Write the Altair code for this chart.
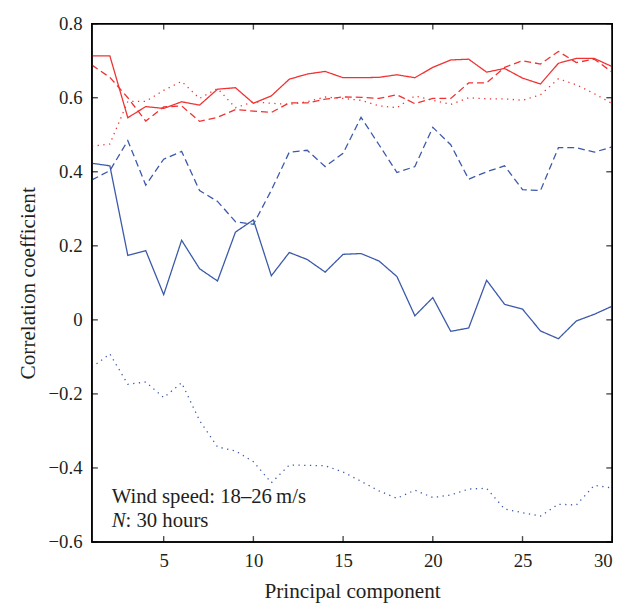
import altair as alt
import pandas as pd

pc = list(range(1, 31))

red_solid = [0.713, 0.713, 0.546, 0.576, 0.571, 0.589, 0.580, 0.623, 0.627, 0.585,
             0.605, 0.650, 0.664, 0.671, 0.654, 0.654, 0.655, 0.662, 0.654, 0.682,
             0.702, 0.704, 0.669, 0.679, 0.653, 0.637, 0.693, 0.706, 0.706, 0.684]
red_dashed = [0.688, 0.655, 0.600, 0.537, 0.575, 0.578, 0.536, 0.547, 0.568, 0.564,
              0.560, 0.586, 0.586, 0.596, 0.602, 0.601, 0.598, 0.608, 0.584, 0.598,
              0.598, 0.640, 0.640, 0.682, 0.700, 0.691, 0.725, 0.695, 0.704, 0.669]
red_dotted = [0.469, 0.475, 0.590, 0.590, 0.620, 0.644, 0.598, 0.625, 0.573, 0.589,
              0.585, 0.582, 0.589, 0.602, 0.598, 0.593, 0.578, 0.573, 0.605, 0.593,
              0.582, 0.600, 0.597, 0.597, 0.593, 0.608, 0.651, 0.635, 0.611, 0.584]
blue_solid = [0.423, 0.416, 0.174, 0.187, 0.068, 0.215, 0.138, 0.105, 0.237, 0.270,
              0.119, 0.182, 0.163, 0.129, 0.177, 0.179, 0.159, 0.117, 0.011, 0.060,
              -0.031, -0.022, 0.107, 0.042, 0.029, -0.030, -0.051, -0.003, 0.015, 0.037]
blue_dashed = [0.378, 0.403, 0.484, 0.364, 0.434, 0.455, 0.349, 0.320, 0.265, 0.258,
               0.350, 0.453, 0.458, 0.414, 0.450, 0.547, 0.473, 0.398, 0.414, 0.520,
               0.473, 0.380, 0.400, 0.416, 0.352, 0.349, 0.465, 0.465, 0.453, 0.467]
blue_dotted = [-0.128, -0.092, -0.174, -0.168, -0.210, -0.170, -0.272, -0.343, -0.354, -0.383,
               -0.440, -0.392, -0.393, -0.394, -0.411, -0.436, -0.462, -0.482, -0.460, -0.480,
               -0.473, -0.457, -0.455, -0.511, -0.521, -0.530, -0.498, -0.500, -0.447, -0.454]

x_ticks = [5, 10, 15, 20, 25, 30]
y_ticks = [-0.6, -0.4, -0.2, 0, 0.2, 0.4, 0.6, 0.8]

series = [
    ("red", "solid", red_solid),
    ("red", "dashed", red_dashed),
    ("red", "dotted", red_dotted),
    ("blue", "solid", blue_solid),
    ("blue", "dashed", blue_dashed),
    ("blue", "dotted", blue_dotted),
]
rows = []
for col, sty, vals in series:
    for x, v in zip(pc, vals):
        rows.append({"pc": x, "r": v, "col": col, "sty": sty, "key": col + sty})
df = pd.DataFrame(rows)

W, H = 527, 525
TL = 6  # inward tick length

FONT = "Liberation Serif"
TXT = "#231f20"
TICK = "#000000"

xscale = alt.Scale(domain=[1, 30], nice=False, zero=False)
yscale = alt.Scale(domain=[-0.6, 0.8], nice=False, zero=False)

color = alt.Color("col:N", scale=alt.Scale(domain=["red", "blue"], range=["#f03232", "#3b59a9"]), legend=None)
dash = alt.StrokeDash("sty:N", scale=alt.Scale(domain=["solid", "dashed", "dotted"],
                                               range=[[1, 0], [7, 4], [1.3, 4.5]]), legend=None)

main = alt.Chart(df).mark_line(strokeWidth=1.3).encode(
    x=alt.X("pc:Q", scale=xscale,
            axis=alt.Axis(values=x_ticks, title="Principal component", orient="bottom",
                          ticks=False, domain=False, grid=False,
                          labelPadding=10, titlePadding=10, labelFontSize=19, titleFontSize=21.5,
                          labelFont=FONT, titleFont=FONT, labelColor=TXT, titleColor=TXT,
                          titleFontWeight="normal")),
    y=alt.Y("r:Q", scale=yscale,
            axis=alt.Axis(values=y_ticks, format="~g", title="Correlation coefficient", orient="left",
                          ticks=False, domain=False, grid=False,
                          labelPadding=10, titlePadding=9, labelFontSize=19, titleFontSize=21.5,
                          labelFont=FONT, titleFont=FONT, labelColor=TXT, titleColor=TXT,
                          labelAlign="right", titleFontWeight="normal")),
    color=color,
    strokeDash=dash,
    detail="key:N",
)

xt = pd.DataFrame({"v": x_ticks})
yt = pd.DataFrame({"v": y_ticks})

frame = pd.DataFrame({"side": ["b"]})

tick_bottom = alt.Chart(xt).mark_tick(color=TICK, thickness=1.4, size=TL, orient="vertical").encode(
    x=alt.X("v:Q", scale=xscale, axis=None), y=alt.value(H - TL / 2))
tick_top = alt.Chart(xt).mark_tick(color=TICK, thickness=1.4, size=TL, orient="vertical").encode(
    x=alt.X("v:Q", scale=xscale, axis=None), y=alt.value(TL / 2))
tick_left = alt.Chart(yt).mark_tick(color=TICK, thickness=1.4, size=TL, orient="horizontal").encode(
    y=alt.Y("v:Q", scale=yscale, axis=None), x=alt.value(TL / 2))
tick_right = alt.Chart(yt).mark_tick(color=TICK, thickness=1.4, size=TL, orient="horizontal").encode(
    y=alt.Y("v:Q", scale=yscale, axis=None), x=alt.value(W - TL / 2))

box = alt.Chart(frame).mark_rect(fill=None, stroke=TICK, strokeWidth=1.5).encode(
    x=alt.value(0), x2=alt.value(W), y=alt.value(0), y2=alt.value(H))

ann1 = alt.Chart(pd.DataFrame({"t": ["Wind speed: 18\u201326\u2009m/s"]})).mark_text(
    align="left", baseline="alphabetic", font=FONT, fontSize=21, color=TXT
).encode(text="t:N", x=alt.value(20), y=alt.value(486))

ann2 = alt.Chart(pd.DataFrame({"t": ["N"]})).mark_text(
    align="left", baseline="alphabetic", font=FONT, fontSize=21, fontStyle="italic", color=TXT
).encode(text="t:N", x=alt.value(20), y=alt.value(510))

ann3 = alt.Chart(pd.DataFrame({"t": [": 30 hours"]})).mark_text(
    align="left", baseline="alphabetic", font=FONT, fontSize=21, color=TXT
).encode(text="t:N", x=alt.value(34), y=alt.value(510))

chart = alt.layer(main, tick_bottom, tick_top, tick_left, tick_right, box, ann1, ann2, ann3).resolve_axis(
    x="independent", y="independent"
).properties(
    width=W, height=H,
    padding={"left": 85, "top": 12, "right": 18, "bottom": 64},
    autosize="none",
).configure(
    background="white",
    view=alt.ViewConfig(stroke="#000000", strokeWidth=1.5),
)

chart.save("out.html", embed_options={"renderer": "svg", "actions": False})
